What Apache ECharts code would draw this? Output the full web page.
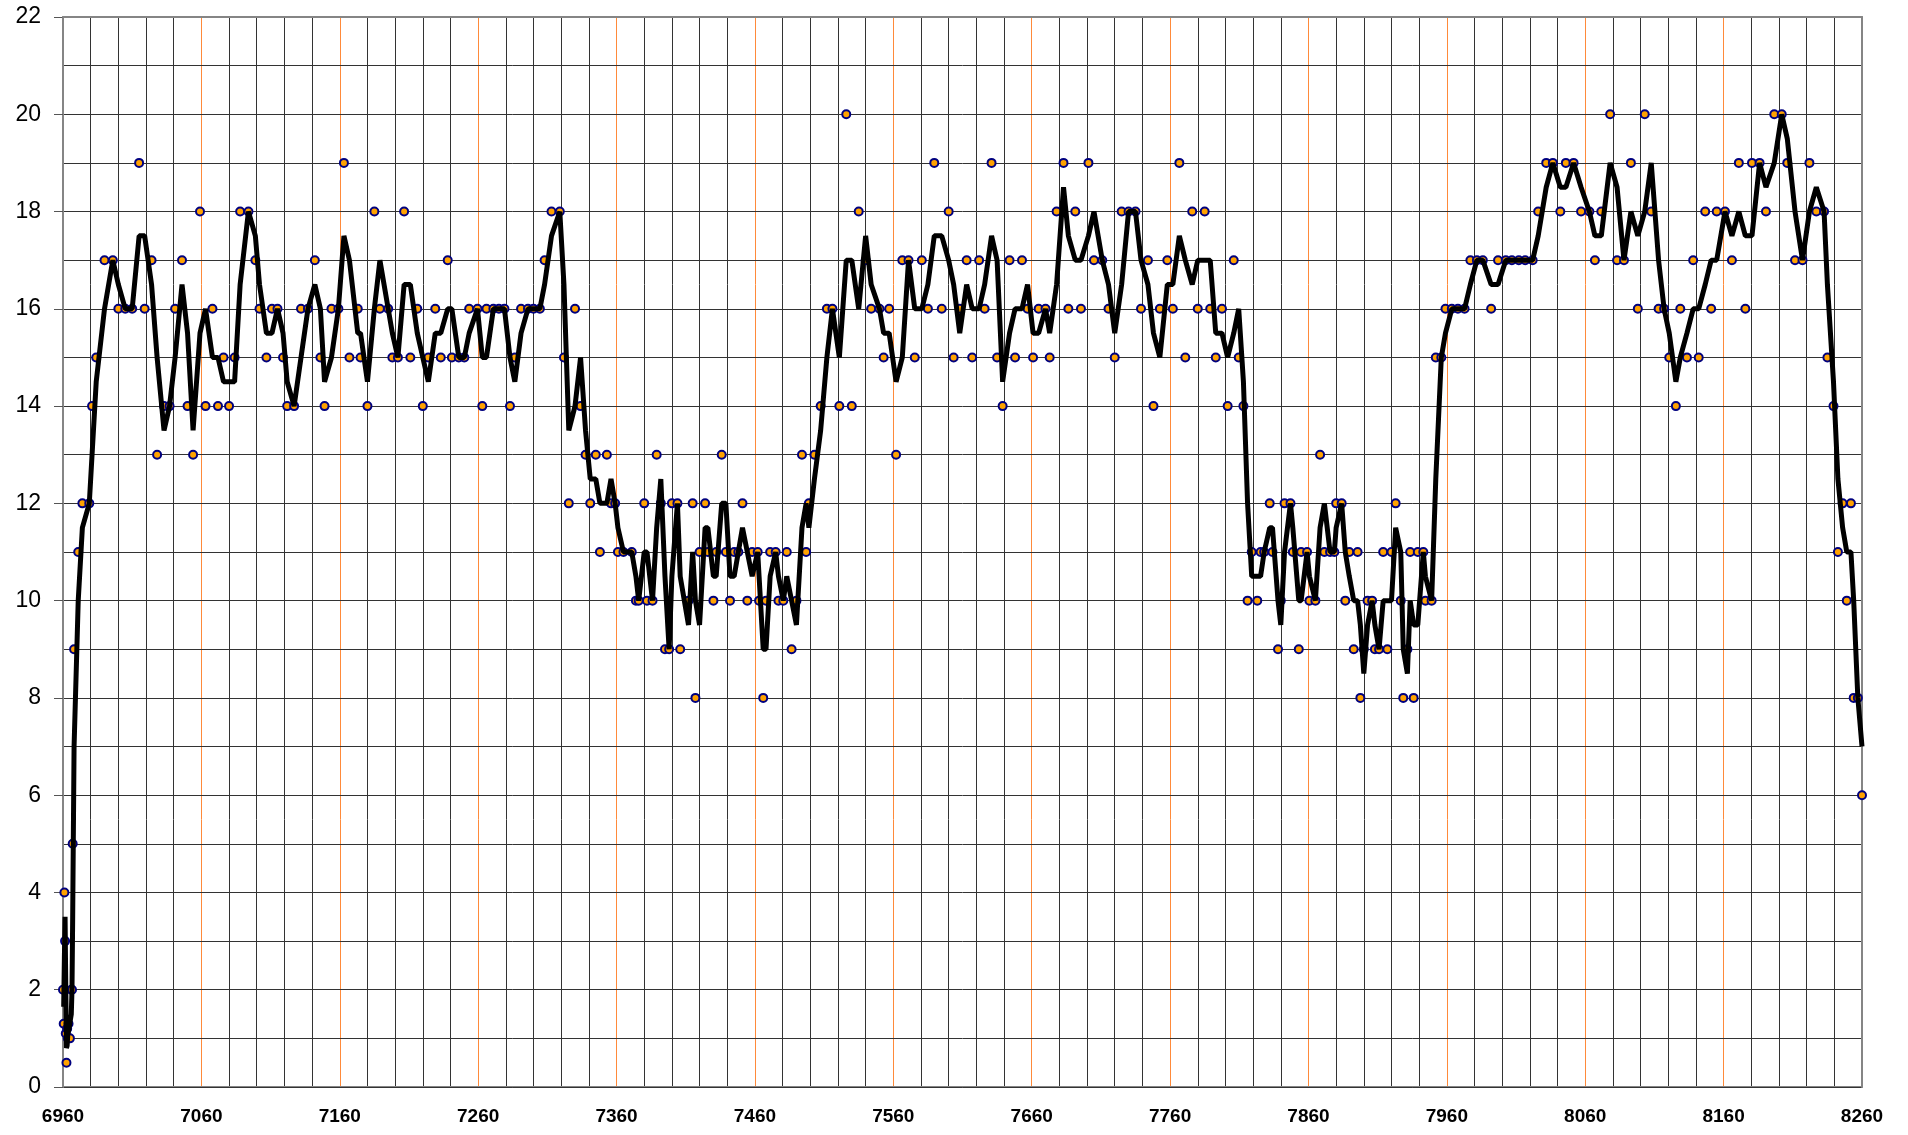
<!DOCTYPE html>
<html>
<head>
<meta charset="utf-8">
<title>moving average</title>
<script src="https://cdn.jsdelivr.net/npm/echarts@6/dist/echarts.min.js"></script>
<style>
  html, body { margin: 0; padding: 0; background: #fff; }
  #chart { width: 1908px; height: 1135px; }
</style>
</head>
<body>
<div id="chart"></div>
<script>
// x 轴从 6960 开始，每 100 一个标签
const xStart = 6960;
const xTickLabels = ['6960', '7060', '7160', '7260', '7360', '7460', '7560',
  '7660', '7760', '7860', '7960', '8060', '8160', '8260'];

// 测量点 [x, y]，按 100 分段
const run6960 = [[6960, 2], [6960.5, 1.3], [6961, 4], [6961.5, 3], [6962, 1.1], [6962.5, 0.5], [6963, 1.2],
  [6963.5, 1], [6964, 1.3], [6965, 1], [6966, 2], [6966.5, 2], [6967, 5], [6968, 9], [6971, 11], [6974, 12],
  [6979, 12], [6981, 14], [6984, 15], [6990, 17], [6996, 17], [7000, 16], [7005, 16], [7010, 16], [7015, 19],
  [7019, 16], [7024, 17], [7028, 13], [7033, 14], [7037, 14], [7041, 16], [7046, 17], [7050, 14], [7054, 13],
  [7059, 18]];
const run7060 = [[7063, 14], [7068, 16], [7072, 14], [7076, 15], [7080, 14], [7084, 15], [7088, 18], [7094, 18],
  [7099, 17], [7102, 16], [7107, 15], [7111, 16], [7115, 16], [7119, 15], [7122, 14], [7127, 14], [7132, 16],
  [7137, 16], [7142, 17], [7146, 15], [7149, 14], [7154, 16], [7159, 16]];
const run7160 = [[7163, 19], [7167, 15], [7173, 16], [7175, 15], [7180, 14], [7185, 18], [7189, 16], [7195, 16],
  [7198, 15], [7202, 15], [7206.5, 18], [7211, 15], [7216, 16], [7220, 14], [7224, 15], [7229, 16], [7233, 15],
  [7238, 17], [7241, 15], [7246, 15], [7250, 15], [7253.5, 16], [7259.5, 16]];
const run7260 = [[7263, 14], [7266, 16], [7271, 16], [7275, 16], [7279, 16], [7283, 14], [7286.5, 15], [7291, 16],
  [7296, 16], [7300, 16], [7304.6, 16], [7308, 17], [7313, 18], [7319, 18], [7322, 15], [7325.5, 12], [7330, 16],
  [7334, 14], [7337.6, 13], [7341, 12], [7345, 13], [7348, 11], [7353, 13], [7356, 12], [7359, 12]];
const run7360 = [[7361, 11], [7365, 11], [7371, 11], [7374, 10], [7376, 10], [7380, 12], [7382, 10], [7386, 10],
  [7389, 13], [7392, 12], [7395, 9], [7398, 9], [7400, 12], [7404, 12], [7406, 9], [7412, 10], [7415, 12],
  [7417, 8], [7420, 11], [7424, 12], [7426, 11], [7430, 10], [7432, 11], [7436, 13], [7439, 11], [7442, 10],
  [7445, 11], [7448, 11], [7451, 12], [7454.5, 10], [7458, 11]];
const run7460 = [[7462, 11], [7463, 10], [7466, 8], [7468, 10], [7471, 11], [7475, 11], [7477, 10], [7480.5, 10],
  [7483, 11], [7486.5, 9], [7490, 10], [7494, 13], [7497, 11], [7499, 12], [7503, 13], [7507.5, 14], [7512, 16],
  [7516, 16], [7521, 14], [7526, 20], [7530, 14], [7535, 18], [7540, 17], [7544, 16], [7550, 16], [7553, 15],
  [7557, 16]];
const run7560 = [[7562, 13], [7566.5, 17], [7571, 17], [7575.5, 15], [7580.6, 17], [7585, 16], [7589.6, 19],
  [7595, 16], [7600, 18], [7603.6, 15], [7608, 16], [7613, 17], [7617, 15], [7622, 17], [7626, 16], [7631, 19],
  [7635, 15], [7639, 14], [7644, 17], [7648, 15], [7653, 17], [7657, 16]];
const run7660 = [[7661, 15], [7665, 16], [7670, 16], [7673, 15], [7678, 18], [7683, 19], [7686.5, 16],
  [7691.5, 18], [7695.6, 16], [7701, 19], [7705, 17], [7711, 17], [7715.5, 16], [7720, 15], [7725, 18],
  [7730, 18], [7735, 18], [7739, 16], [7744, 17], [7748, 14], [7752.6, 16], [7758, 17]];
const run7760 = [[7762, 16], [7766.7, 19], [7771, 15], [7776, 18], [7780, 16], [7785, 18], [7789, 16], [7793, 15],
  [7797.5, 16], [7801.6, 14], [7806, 17], [7809.6, 15], [7813, 14], [7816, 10], [7819, 11], [7823, 10],
  [7825.4, 11], [7828, 11], [7832, 12], [7834, 11], [7838, 9], [7840, 10], [7842.7, 12], [7847, 12],
  [7848.7, 11], [7853, 9], [7854.7, 11], [7859, 11]];
const run7860 = [[7860.7, 10], [7865, 10], [7868.4, 13], [7871.5, 11], [7875.6, 11], [7878.7, 11], [7880, 12],
  [7884, 12], [7886.6, 10], [7889.5, 11], [7892.7, 9], [7895.5, 11], [7897.5, 8], [7900, 9], [7902.7, 10],
  [7906, 10], [7908, 9], [7911, 9], [7914, 11], [7917, 9], [7920, 11], [7923, 12], [7926.7, 10], [7928.5, 8],
  [7931.5, 9], [7933.5, 11], [7936, 8], [7939, 11], [7943, 11], [7944.5, 10], [7949, 10], [7952, 15],
  [7956, 15], [7959, 16]];
const run7960 = [[7963.6, 16], [7968, 16], [7972.8, 16], [7977, 17], [7981.7, 17], [7986, 17], [7992, 16],
  [7997, 17], [8002.6, 17], [8007, 17], [8012, 17], [8016.6, 17], [8022, 17], [8026, 18], [8031.8, 19],
  [8036.6, 19], [8042, 18], [8046, 19], [8051.6, 19], [8057, 18]];
const run8060 = [[8063, 18], [8067, 17], [8071.6, 18], [8078, 20], [8083, 17], [8088, 17], [8093, 19], [8098, 16],
  [8103, 20], [8107.7, 18], [8113, 16], [8117, 16], [8120.7, 15], [8125.5, 14], [8128.7, 16], [8133.5, 15],
  [8138, 17], [8142, 15], [8146.7, 18], [8151, 16], [8155, 18]];
const run8160 = [[8161, 18], [8166, 17], [8171, 19], [8175.7, 16], [8180.5, 19], [8186, 19], [8190.6, 18],
  [8196.6, 20], [8202, 20], [8206, 19], [8211.6, 17], [8217, 17], [8222, 19], [8227, 18], [8232.6, 18],
  [8235, 15], [8239.4, 14], [8242.6, 11], [8246, 12], [8249, 10], [8252, 12], [8254, 8], [8257, 8], [8260, 6]];

const samples = [].concat(run6960, run7060, run7160, run7260, run7360, run7460, run7560,
  run7660, run7760, run7860, run7960, run8060, run8160);

// 散点（x 减去起点，配合 interval 100 的刻度）
const scatterData = samples.map(p => [p[0] - xStart, p[1]]);
// 2 点移动平均线
const maData = [];
for (let i = 1; i < samples.length; i++) {
  maData.push([samples[i][0] - xStart, (samples[i][1] + samples[i - 1][1]) / 2]);
}

const gridColor = '#333333';
const borderColor = '#858585';

let myChart = echarts.init(document.getElementById('chart'), null, { renderer: 'canvas' });
myChart.setOption({
  animation: false,
  backgroundColor: '#fff',
  grid: { left: 63, right: 46, top: 17, bottom: 48 },
  xAxis: [
    {
      type: 'value',
      position: 'bottom',
      min: 0,
      max: 1300,
      interval: 100,
      axisLine: { show: true, onZero: false, lineStyle: { color: borderColor, width: 2 } },
      axisTick: { show: false },
      axisLabel: {
        color: '#000',
        fontSize: 19,
        fontWeight: 'bold',
        fontFamily: 'Liberation Sans',
        margin: 20,
        formatter: v => xTickLabels[Math.round(v / 100)]
      },
      splitLine: { show: true, lineStyle: { color: '#ff8a3a', width: 1 } },
      minorTick: { show: false, splitNumber: 5 },
      minorSplitLine: { show: true, lineStyle: { color: gridColor, width: 1 } },
      z: 1
    },
    {
      // 上边框
      type: 'value',
      position: 'top',
      min: 0,
      max: 1300,
      axisLine: { show: true, onZero: false, lineStyle: { color: borderColor, width: 2 } },
      axisTick: { show: false },
      axisLabel: { show: false },
      splitLine: { show: false },
      z: 4
    }
  ],
  yAxis: [
    {
      type: 'value',
      min: 0,
      max: 22,
      interval: 2,
      axisLine: { show: true, onZero: false, lineStyle: { color: borderColor, width: 2 } },
      axisTick: { show: true, length: 9, lineStyle: { color: '#555', width: 1 } },
      axisLabel: { color: '#000', fontSize: 23, fontFamily: 'Liberation Sans', margin: 22 },
      splitLine: { show: true, lineStyle: { color: gridColor, width: 1 } },
      minorTick: { show: false, splitNumber: 2 },
      minorSplitLine: { show: true, lineStyle: { color: gridColor, width: 1 } },
      z: 3
    },
    {
      // 右边框
      type: 'value',
      position: 'right',
      min: 0,
      max: 22,
      axisLine: { show: true, onZero: false, lineStyle: { color: borderColor, width: 2 } },
      axisTick: { show: false },
      axisLabel: { show: false },
      splitLine: { show: false },
      z: 4
    }
  ],
  series: [
    {
      name: '测量数据',
      type: 'scatter',
      xAxisIndex: 0,
      yAxisIndex: 0,
      symbol: 'circle',
      symbolSize: 8,
      clip: false,
      itemStyle: { color: '#ffa200', borderColor: '#00007f', borderWidth: 2, opacity: 1 },
      data: scatterData,
      z: 5
    },
    {
      name: '移动平均',
      type: 'line',
      xAxisIndex: 0,
      yAxisIndex: 0,
      showSymbol: false,
      symbol: 'none',
      lineStyle: { color: '#000', width: 5 },
      data: maData,
      silent: true,
      z: 6
    }
  ]
});
</script>
</body>
</html>
